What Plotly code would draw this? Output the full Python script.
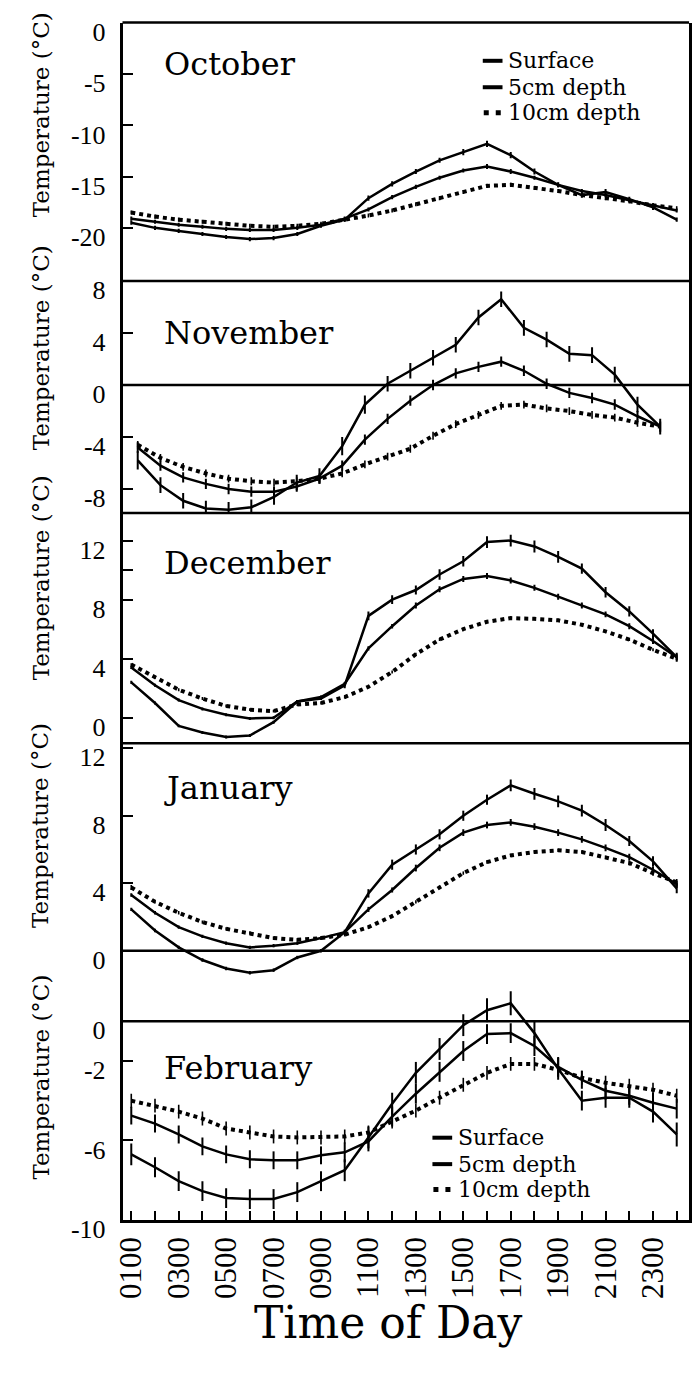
import plotly.graph_objects as go

W, H = 693, 1381

# ---------------- data ----------------
hours = list(range(1, 25))
hour_labels = ["0100", "", "0300", "", "0500", "", "0700", "", "0900", "", "1100", "",
               "1300", "", "1500", "", "1700", "", "1900", "", "2100", "", "2300", ""]
series_names = ["Surface", "5cm depth", "10cm depth"]
months = ["October", "November", "December", "January", "February"]

oct_surface = [-19.5, -20.0, -20.3, -20.6, -20.9, -21.1, -21.0, -20.6, -19.8, -19.2, -17.1, -15.7,
               -14.5, -13.4, -12.6, -11.8, -12.9, -14.5, -15.8, -16.8, -16.5, -17.2, -18.0, -19.2]
oct_5cm = [-19.1, -19.4, -19.7, -19.9, -20.1, -20.2, -20.2, -20.0, -19.7, -19.1, -18.2, -17.0,
           -16.0, -15.1, -14.4, -14.0, -14.5, -15.1, -15.8, -16.4, -16.8, -17.3, -17.8, -18.3]
oct_10cm = [-18.5, -18.9, -19.2, -19.4, -19.6, -19.8, -19.9, -19.8, -19.6, -19.2, -18.8, -18.3,
            -17.7, -17.1, -16.5, -15.9, -15.8, -16.1, -16.4, -16.8, -17.1, -17.4, -17.8, -18.1]
oct_surface_err = [0.2, 0.2, 0.2, 0.2, 0.2, 0.2, 0.2, 0.2, 0.2, 0.2, 0.25, 0.25,
                   0.25, 0.25, 0.3, 0.3, 0.3, 0.3, 0.25, 0.25, 0.3, 0.25, 0.25, 0.2]
oct_5cm_err = [0.2, 0.2, 0.2, 0.2, 0.2, 0.2, 0.2, 0.2, 0.2, 0.2, 0.2, 0.2,
               0.2, 0.2, 0.2, 0.25, 0.25, 0.2, 0.2, 0.2, 0.2, 0.2, 0.2, 0.2]
oct_10cm_err = [0.2, 0.2, 0.2, 0.2, 0.2, 0.2, 0.2, 0.2, 0.2, 0.2, 0.2, 0.2,
                0.2, 0.2, 0.2, 0.2, 0.2, 0.2, 0.2, 0.2, 0.2, 0.2, 0.2, 0.2]

nov_surface = [-5.8, -7.7, -8.9, -9.5, -9.6, -9.4, -8.6, -7.5, -7.0, -4.7, -1.5, 0.1,
               1.1, 2.1, 3.1, 5.2, 6.6, 4.4, 3.5, 2.4, 2.3, 0.8, -1.5, -3.2]
nov_5cm = [-4.8, -6.2, -7.1, -7.6, -8.0, -8.2, -8.2, -7.8, -7.2, -6.2, -4.2, -2.6,
           -1.2, 0.0, 0.9, 1.4, 1.8, 1.1, 0.1, -0.6, -1.0, -1.5, -2.4, -3.2]
nov_10cm = [-4.6, -5.6, -6.3, -6.8, -7.2, -7.4, -7.5, -7.4, -7.2, -6.8, -6.1, -5.5,
            -4.9, -3.9, -3.0, -2.3, -1.6, -1.5, -1.8, -2.0, -2.3, -2.5, -2.9, -3.2]
nov_surface_err = [0.7, 0.6, 0.6, 0.6, 0.6, 0.6, 0.6, 0.6, 0.6, 0.7, 0.7, 0.6,
                   0.6, 0.6, 0.6, 0.6, 0.6, 0.6, 0.6, 0.6, 0.6, 0.6, 0.6, 0.6]
nov_5cm_err = [0.4, 0.4, 0.4, 0.4, 0.4, 0.4, 0.4, 0.4, 0.4, 0.4, 0.4, 0.4,
               0.4, 0.4, 0.4, 0.4, 0.4, 0.4, 0.4, 0.4, 0.4, 0.4, 0.4, 0.4]
nov_10cm_err = [0.3, 0.3, 0.3, 0.3, 0.3, 0.3, 0.3, 0.3, 0.3, 0.3, 0.3, 0.3,
                0.3, 0.3, 0.3, 0.3, 0.3, 0.3, 0.3, 0.3, 0.3, 0.3, 0.3, 0.3]

dec_surface = [2.4, 1.0, -0.55, -1.0, -1.3, -1.2, -0.3, 1.1, 1.3, 2.2, 6.9, 8.0,
               8.65, 9.7, 10.6, 11.9, 12.0, 11.6, 10.9, 10.1, 8.5, 7.2, 5.7, 4.1]
dec_5cm = [3.4, 2.2, 1.2, 0.6, 0.2, -0.05, 0.0, 1.1, 1.4, 2.3, 4.7, 6.2,
           7.6, 8.7, 9.4, 9.6, 9.3, 8.8, 8.2, 7.6, 7.0, 6.2, 5.2, 4.1]
dec_10cm = [3.6, 2.75, 1.9, 1.3, 0.8, 0.55, 0.45, 0.9, 1.0, 1.4, 2.1, 3.1,
            4.3, 5.3, 6.0, 6.5, 6.75, 6.7, 6.6, 6.3, 5.85, 5.3, 4.6, 4.0]
dec_surface_err = [0.1, 0.1, 0.1, 0.1, 0.1, 0.1, 0.1, 0.1, 0.1, 0.2, 0.3, 0.3,
                   0.3, 0.35, 0.35, 0.4, 0.4, 0.4, 0.4, 0.35, 0.35, 0.35, 0.3, 0.3]
dec_5cm_err = [0.1, 0.1, 0.1, 0.1, 0.1, 0.1, 0.1, 0.1, 0.1, 0.1, 0.15, 0.15,
               0.2, 0.2, 0.2, 0.2, 0.2, 0.2, 0.2, 0.2, 0.2, 0.2, 0.2, 0.2]
dec_10cm_err = [0.1, 0.1, 0.1, 0.1, 0.1, 0.1, 0.1, 0.1, 0.1, 0.1, 0.1, 0.1,
                0.1, 0.1, 0.1, 0.1, 0.1, 0.1, 0.1, 0.1, 0.1, 0.1, 0.1, 0.1]

jan_surface = [2.45, 1.2, 0.2, -0.55, -1.05, -1.3, -1.15, -0.4, 0.0, 1.1, 3.4, 5.1,
               6.0, 6.9, 8.0, 8.95, 9.8, 9.3, 8.85, 8.3, 7.45, 6.5, 5.3, 3.7]
jan_5cm = [3.3, 2.25, 1.4, 0.85, 0.45, 0.2, 0.3, 0.45, 0.75, 1.1, 2.45, 3.6,
           4.9, 6.1, 7.0, 7.45, 7.6, 7.35, 7.0, 6.6, 6.1, 5.55, 4.8, 3.95]
jan_10cm = [3.75, 2.9, 2.25, 1.7, 1.3, 1.05, 0.75, 0.65, 0.75, 0.95, 1.4, 2.05,
            2.9, 3.75, 4.6, 5.25, 5.65, 5.85, 5.95, 5.85, 5.55, 5.2, 4.6, 4.05]
jan_surface_err = [0.1, 0.1, 0.1, 0.1, 0.1, 0.1, 0.1, 0.1, 0.1, 0.15, 0.25, 0.3,
                   0.3, 0.3, 0.3, 0.3, 0.35, 0.35, 0.35, 0.35, 0.35, 0.3, 0.3, 0.3]
jan_5cm_err = [0.1, 0.1, 0.1, 0.1, 0.1, 0.1, 0.1, 0.1, 0.1, 0.1, 0.15, 0.15,
               0.2, 0.2, 0.2, 0.2, 0.2, 0.2, 0.2, 0.2, 0.2, 0.2, 0.2, 0.2]
jan_10cm_err = [0.15, 0.1, 0.1, 0.1, 0.1, 0.1, 0.1, 0.1, 0.1, 0.1, 0.1, 0.1,
                0.1, 0.1, 0.1, 0.1, 0.1, 0.1, 0.1, 0.1, 0.1, 0.15, 0.15, 0.2]

feb_surface = [-6.7, -7.35, -8.05, -8.55, -8.9, -8.95, -8.95, -8.6, -8.05, -7.5, -5.85, -4.15,
               -2.6, -1.4, -0.2, 0.55, 0.9, -0.6, -2.4, -4.0, -3.85, -3.85, -4.55, -5.7]
feb_5cm = [-4.75, -5.15, -5.7, -6.3, -6.7, -6.95, -7.0, -7.0, -6.75, -6.6, -6.05, -4.8,
           -3.65, -2.55, -1.5, -0.65, -0.6, -1.25, -2.3, -2.95, -3.5, -3.75, -4.1, -4.4]
feb_10cm = [-4.0, -4.25, -4.55, -4.9, -5.4, -5.6, -5.8, -5.85, -5.85, -5.8, -5.6, -5.05,
            -4.5, -3.85, -3.2, -2.6, -2.15, -2.15, -2.45, -2.85, -3.1, -3.25, -3.45, -3.75]
feb_surface_err = [0.55, 0.5, 0.5, 0.5, 0.5, 0.5, 0.5, 0.5, 0.5, 0.55, 0.55, 0.55,
                   0.55, 0.55, 0.55, 0.6, 0.6, 0.6, 0.55, 0.5, 0.5, 0.5, 0.55, 0.6]
feb_5cm_err = [0.45, 0.45, 0.45, 0.45, 0.45, 0.45, 0.45, 0.45, 0.45, 0.5, 0.5, 0.5,
               0.5, 0.5, 0.5, 0.5, 0.5, 0.5, 0.5, 0.45, 0.45, 0.45, 0.5, 0.5]
feb_10cm_err = [0.35, 0.35, 0.35, 0.35, 0.35, 0.35, 0.35, 0.35, 0.35, 0.35, 0.35, 0.35,
                0.35, 0.35, 0.35, 0.35, 0.35, 0.35, 0.35, 0.35, 0.35, 0.35, 0.35, 0.35]

oct_ticks = [0, -5, -10, -15, -20]
nov_ticks = [8, 4, 0, -4, -8]
dec_ticks = [12, 10, 8, 4, 0]
dec_ticktext = ["12", "", "8", "4", "0"]
jan_ticks = [12, 8, 4, 0]
feb_ticks = [0, -2, -6, -10]

# ---------------- layout helpers ----------------
def fx(px):
    return px / W

def fy(py):
    return 1 - py / H

X_LEFT, X_RIGHT = 115, 689
WORD_FONT = "DejaVu Serif"
NUM_FONT = "Liberation Serif"

panels = [
    dict(month=months[0], data=(oct_surface, oct_5cm, oct_10cm),
         err=(oct_surface_err, oct_5cm_err, oct_10cm_err),
         top=18, bot=282, yrange=[-25.2, 0.05], tv=oct_ticks, tt=[str(v) for v in oct_ticks],
         xrange=[0.63, 24.52], label_y=60, title_y=112, zero=False),
    dict(month=months[1], data=(nov_surface, nov_5cm, nov_10cm),
         err=(nov_surface_err, nov_5cm_err, nov_10cm_err),
         top=282, bot=519, yrange=[-9.85, 8.0], tv=nov_ticks, tt=[str(v) for v in nov_ticks],
         xrange=[0.33, 25.27], label_y=335, title_y=350, zero=True),
    dict(month=months[2], data=(dec_surface, dec_5cm, dec_10cm),
         err=(dec_surface_err, dec_5cm_err, dec_10cm_err),
         top=519, bot=754, yrange=[-1.72, 13.86], tv=dec_ticks, tt=dec_ticktext,
         xrange=[0.63, 24.52], label_y=570, title_y=585, zero=False),
    dict(month=months[3], data=(jan_surface, jan_5cm, jan_10cm),
         err=(jan_surface_err, jan_5cm_err, jan_10cm_err),
         top=754, bot=1000, yrange=[-1.97, 12.3], tv=jan_ticks, tt=[str(v) for v in jan_ticks],
         xrange=[0.63, 24.52], label_y=800, title_y=838, zero=True),
    dict(month=months[4], data=(feb_surface, feb_5cm, feb_10cm),
         err=(feb_surface_err, feb_5cm_err, feb_10cm_err),
         top=1000, bot=1241, yrange=[-10.0, 1.87], tv=feb_ticks, tt=[str(v) for v in feb_ticks],
         xrange=[0.63, 24.52], label_y=1086, title_y=1095, zero=True),
]

fig = go.Figure()
shapes = []
annotations = []

line_styles = [dict(color="black", width=2.5),
               dict(color="black", width=2.5),
               dict(color="black", width=4, dash="4px,4px")]
err_thick = [2, 2, 1.6]

for i, p in enumerate(panels):
    n = "" if i == 0 else str(i + 1)
    for k in range(3):
        fig.add_trace(go.Scatter(
            x=hours, y=p["data"][k], mode="lines", name=series_names[k],
            line=line_styles[k], showlegend=False, hoverinfo="skip",
            error_y=dict(type="data", array=p["err"][k], visible=True,
                         thickness=err_thick[k], width=0, color="black"),
            xaxis="x" + n, yaxis="y" + n))
    last = (i == len(panels) - 1)
    xa = dict(domain=[fx(X_LEFT), fx(X_RIGHT)], range=p["xrange"], anchor="y" + n,
              showgrid=False, zeroline=False, fixedrange=True)
    if last:
        xa.update(showline=True, linewidth=2.5, linecolor="black", ticks="inside",
                  ticklen=9, tickwidth=2, tickcolor="black", tickvals=hours,
                  ticktext=hour_labels, tickangle=-90, ticklabelstandoff=2,
                  tickfont=dict(family=NUM_FONT, size=31, color="black"))
    else:
        xa.update(showline=False, ticks="", showticklabels=False)
    ya = dict(domain=[fy(p["bot"]), fy(p["top"])], range=p["yrange"], anchor="x" + n,
              showgrid=False, zeroline=False, showline=True, linewidth=2.5,
              linecolor="black", mirror=True, ticks="inside", ticklen=11, tickwidth=2,
              tickcolor="black", tickvals=p["tv"], ticktext=p["tt"],
              ticklabelstandoff=9, ticklabelshift=9,
              tickfont=dict(family=NUM_FONT, size=26, color="black"), fixedrange=True)
    fig.layout["xaxis" + n] = xa
    fig.layout["yaxis" + n] = ya

    if p["zero"]:
        shapes.append(dict(type="line", xref="paper", yref="y" + n,
                           x0=fx(X_LEFT), x1=fx(X_RIGHT), y0=0, y1=0,
                           line=dict(color="black", width=2.5)))
    annotations.append(dict(text=p["month"], xref="paper", yref="paper",
                            x=fx(155), y=fy(p["label_y"]), xanchor="left", yanchor="middle",
                            showarrow=False,
                            font=dict(family=WORD_FONT, size=32, color="black")))
    annotations.append(dict(text="Temperature (°C)", xref="paper", yref="paper",
                            x=fx(32), y=fy(p["title_y"]), xanchor="center", yanchor="middle",
                            textangle=-90, showarrow=False,
                            font=dict(family=WORD_FONT, size=23, color="black")))

# panel boundaries (top frame and separators)
for py in [18, 282, 519, 754]:
    shapes.append(dict(type="line", xref="paper", yref="paper",
                       x0=fx(X_LEFT), x1=fx(X_RIGHT), y0=fy(py), y1=fy(py),
                       line=dict(color="black", width=2.5)))

# legends (October and February panels)
def add_legend(x_line, x_text, ys):
    for k, yy in enumerate(ys):
        if k < 2:
            shapes.append(dict(type="line", xref="paper", yref="paper",
                               x0=fx(x_line), x1=fx(x_line + 20), y0=fy(yy), y1=fy(yy),
                               line=dict(color="black", width=4)))
        else:
            shapes.append(dict(type="line", xref="paper", yref="paper",
                               x0=fx(x_line + 1), x1=fx(x_line + 20), y0=fy(yy), y1=fy(yy),
                               line=dict(color="black", width=5, dash="5px,7px")))
        annotations.append(dict(text=series_names[k], xref="paper", yref="paper",
                                x=fx(x_text), y=fy(yy), xanchor="left", yanchor="middle",
                                showarrow=False,
                                font=dict(family=WORD_FONT, size=22, color="black")))

add_legend(480, 504, [57, 84, 110])
add_legend(429, 453, [1157, 1184, 1210])

annotations.append(dict(text="Time of Day", xref="paper", yref="paper",
                        x=fx(384), y=fy(1346), xanchor="center", yanchor="middle",
                        showarrow=False, font=dict(family=WORD_FONT, size=44, color="black")))

fig.update_layout(width=W, height=H, margin=dict(l=0, r=0, t=0, b=0),
                  paper_bgcolor="white", plot_bgcolor="white",
                  shapes=shapes, annotations=annotations, showlegend=False)

fig.write_html("out.html")
